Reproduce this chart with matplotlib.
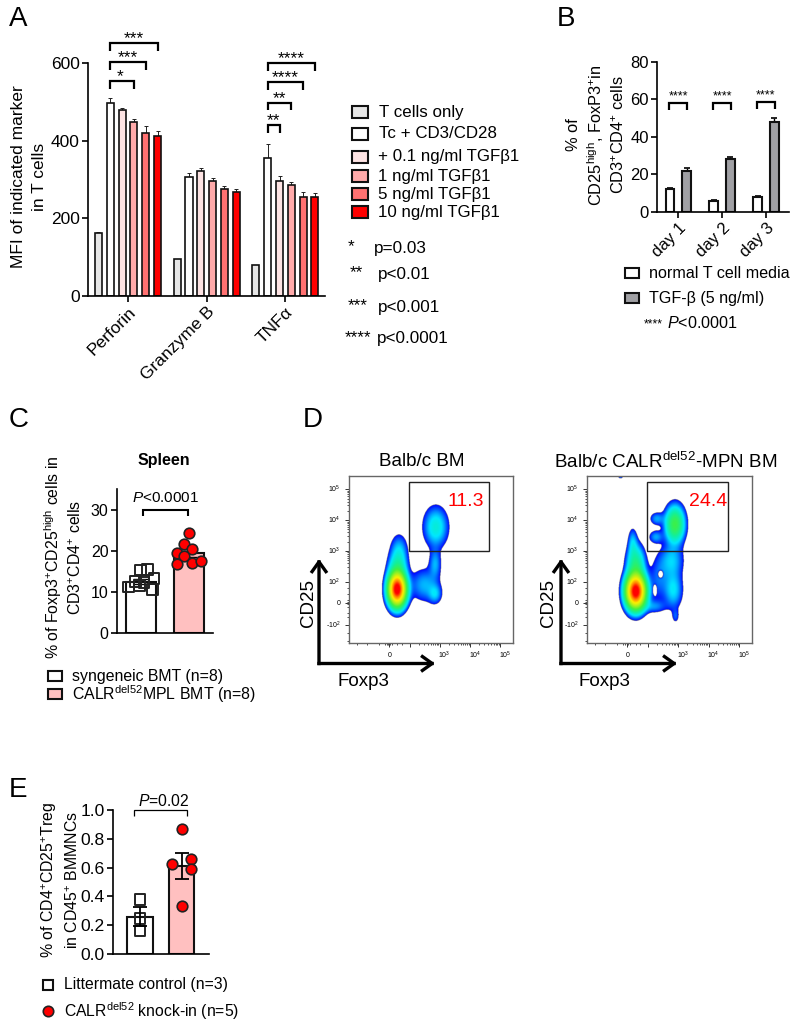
import numpy as np
import matplotlib
matplotlib.use("Agg")
import matplotlib.pyplot as plt
from matplotlib.colors import LinearSegmentedColormap
from matplotlib.patches import Rectangle, FancyArrowPatch
from matplotlib.lines import Line2D

plt.rcParams.update({
    'font.family': ['Liberation Sans', 'DejaVu Sans'],
    'mathtext.fontset': 'custom',
    'mathtext.rm': 'Liberation Sans',
    'mathtext.it': 'Liberation Sans:italic',
    'mathtext.bf': 'Liberation Sans:bold',
    'mathtext.default': 'regular',
    'axes.linewidth': 1.2,
    'xtick.major.width': 1.2, 'ytick.major.width': 1.2,
})

# ---------- data ----------
A_groups = ['Perforin', 'Granzyme B', 'TNFα']
A_series = ['T cells only', 'Tc + CD3/CD28', '+ 0.1 ng/ml TGFβ1',
            '1 ng/ml TGFβ1', '5 ng/ml TGFβ1', '10 ng/ml TGFβ1']
A_perforin = [163, 497, 480, 447, 421, 413]
A_granzyme = [95, 307, 323, 297, 275, 268]
A_tnf = [79, 356, 296, 287, 256, 255]
A_perforin_err = [2, 13, 4, 10, 18, 13]
A_granzyme_err = [1, 10, 7, 7, 8, 7]
A_tnf_err = [2, 35, 12, 6, 12, 11]
A_colors = ['#E6E6E6', '#FFFFFF', '#FDE3E3', '#FFAAAA', '#FF7171', '#FF0000']

B_days = ['day 1', 'day 2', 'day 3']
B_normal = [12, 6, 8]
B_normal_err = [0.6, 0.6, 0.7]
B_tgf = [22, 28, 48]
B_tgf_err = [1.2, 1.4, 2.2]

C_syn = [11.2, 15.3, 15.5, 13.3, 10.5, 12.6, 12.3, 11.5]
C_calr = [24.4, 21.7, 20.5, 19.5, 18.8, 16.8, 17.0, 17.5]
C_syn_mean, C_syn_err = 12.5, 0.7
C_calr_mean, C_calr_err = 19.4, 0.9

E_ctrl = [0.378, 0.245, 0.16]
E_ko = [0.868, 0.627, 0.659, 0.592, 0.33]
E_ctrl_mean, E_ctrl_err = 0.258, 0.065
E_ko_mean, E_ko_err = 0.612, 0.088

# flow plot density blobs: x, y, sx, sy, amplitude (biexponential decades)
D1_blobs = [(1.59, 1.76, .18, .33, 1.0), (1.65, 3.0, .19, .36, .06),
            (1.6, 2.5, .2, .3, .08), (2.87, 3.78, .26, .42, .09),
            (2.85, 2.6, .13, .3, .05), (2.5, 1.9, .32, .36, .055),
            (2.85, 1.6, .14, .2, .05)]
D2_blobs = [(1.6, 1.69, .2, .34, 1.0), (1.6, 2.6, .19, .38, .14),
            (1.5, 3.3, .1, .3, .05), (2.89, 3.87, .2, .37, .22),
            (2.29, 4.05, .15, .14, .05), (2.26, 3.46, .15, .14, .05),
            (2.78, 2.7, .26, .35, .06), (2.84, 1.74, .2, .4, .07),
            (2.91, .88, .08, .15, .03), (2.2, 1.2, .25, .14, .04),
            (2.35, 2.1, .2, .5, .035), (1.1, 5.42, .06, .05, .04)]
D2_holes = [(2.42, 2.25, .09, .13), (2.23, 1.74, .07, .18)]
D_titles = ['Balb/c BM', 'Balb/c CALR$^{del52}$-MPN BM']
D_gates = ['11.3', '24.4']

# ---------- helpers ----------
W, H = 800, 1029
fig = plt.figure(figsize=(W / 100, H / 100), dpi=100)


def pax(l, t, r, b):
    ax = fig.add_axes([l / W, 1 - b / H, (r - l) / W, (b - t) / H])
    ax.patch.set_alpha(0)
    return ax


def ft(x, y, s, **kw):
    kw.setdefault('ha', 'left')
    kw.setdefault('va', 'center')
    kw.setdefault('fontsize', 11)
    return fig.text(x / W, 1 - y / H, s, **kw)


def clean(ax):
    ax.spines['top'].set_visible(False)
    ax.spines['right'].set_visible(False)
    ax.tick_params(length=4, pad=2)


def bracket(ax, x0, x1, y, drop, lw=1.6):
    ax.plot([x0, x0, x1, x1], [y - drop, y, y, y - drop], color='k', lw=lw,
            clip_on=False, solid_joinstyle='miter', solid_capstyle='butt')


def swatch(x0, x1, yc, h, color, lw=1.5):
    fig.add_artist(Rectangle((x0 / W, 1 - (yc + h / 2) / H), (x1 - x0) / W, h / H,
                             transform=fig.transFigure, fc=color, ec='#111111', lw=lw))


for x, y, s in [(9, 19, 'A'), (557, 19, 'B'), (9, 420, 'C'), (303, 420, 'D'), (9, 790, 'E')]:
    ft(x, y, s, fontsize=20)

# ---------- Panel A ----------
ax = pax(88, 63, 325, 296)
clean(ax)
offs = (np.arange(6) - 2.5) * 0.15
for g, (vals, errs) in enumerate([(A_perforin, A_perforin_err),
                                  (A_granzyme, A_granzyme_err),
                                  (A_tnf, A_tnf_err)]):
    ax.bar(g + offs, vals, width=0.09, color=A_colors, edgecolor='#111111', lw=1.2, zorder=2)
    ax.errorbar(g + offs, vals, yerr=[np.zeros(6), errs], fmt='none', ecolor='#222222',
                elinewidth=0.7, capsize=1.2, capthick=0.7, zorder=1)
ax.set_xlim(-0.508, 2.503)
ax.set_ylim(0, 600)
ax.set_yticks([0, 200, 400, 600])
ax.set_xticks(range(3))
ax.set_xticklabels(A_groups, rotation=45, ha='right', rotation_mode='anchor')
ax.tick_params(labelsize=12.5)
ft(19, 177, 'MFI of indicated marker', rotation=90, ha='center', fontsize=12.5)
ft(40, 177, 'in T cells', rotation=90, ha='center', fontsize=12.5)
for i, y, st, sx in [(3, 553, '*', -0.02), (4, 603, '***', 0), (5, 652, '***', 0)]:
    bracket(ax, offs[1], offs[i], y, 20)
    ax.text((offs[1] + offs[i]) / 2 + sx, y - 8, st, ha='center', va='bottom', fontsize=12.5)
for i, y, st in [(2, 441, '**'), (3, 498, '**'), (4, 550, '****'), (5, 599, '****')]:
    bracket(ax, 2 + offs[1], 2 + offs[i], y, 20)
    ax.text(2 + (offs[1] + offs[i]) / 2, y - 8, st, ha='center', va='bottom', fontsize=12.5)
for name, c, y, tx in zip(A_series, A_colors, [112, 134, 157, 176, 194, 212],
                          [379, 379, 378, 378, 378, 378]):
    swatch(352, 368, y, 11.5, c)
    ft(tx, y, name, fontsize=12.2)
for st, sx, p, px, y in [('*', 351, 'p=0.03', 374, 248), ('**', 356, 'p<0.01', 378, 274),
                         ('***', 358, 'p<0.001', 378, 307), ('****', 358, 'p<0.0001', 377, 339)]:
    ft(sx, y - 1, st, ha='center', fontsize=12.3)
    ft(px, y, p, fontsize=12.3)

# ---------- Panel B ----------
ax = pax(657, 62, 789, 212)
clean(ax)
xb = np.arange(3)
ax.bar(xb - 0.19, B_normal, width=0.2, color='white', edgecolor='#111111', lw=1.5, zorder=2)
ax.bar(xb + 0.19, B_tgf, width=0.2, color='#A0A0A4', edgecolor='#111111', lw=1.5, zorder=2)
ax.errorbar(xb - 0.19, B_normal, yerr=[[0] * 3, B_normal_err], fmt='none', ecolor='k',
            elinewidth=1, capsize=2.5, capthick=1.2, zorder=1)
ax.errorbar(xb + 0.19, B_tgf, yerr=[[0] * 3, B_tgf_err], fmt='none', ecolor='k',
            elinewidth=1, capsize=2.5, capthick=1.2, zorder=1)
ax.set_xlim(-0.486, 2.527)
ax.set_ylim(0, 80)
ax.set_yticks([0, 20, 40, 60, 80])
ax.set_xticks(xb)
ax.set_xticklabels(B_days, rotation=45, ha='right', rotation_mode='anchor')
ax.tick_params(labelsize=12)
for g, y in zip(xb, [58, 58, 58.5]):
    bracket(ax, g - 0.21, g + 0.21, y, 3.5)
    ax.text(g, y + 0.5, '****', ha='center', va='bottom', fontsize=9)
ft(573, 135, '% of', rotation=90, ha='center', fontsize=11.8)
ft(596, 135, 'CD25$^{high}$, FoxP3$^{+}$in', rotation=90, ha='center', fontsize=11.8)
ft(619, 135, 'CD3$^{+}$CD4$^{+}$ cells', rotation=90, ha='center', fontsize=11.8)
swatch(625, 639, 273, 10, 'white')
swatch(625, 639, 298, 10, '#A0A0A4')
ft(649, 273, 'normal T cell media', fontsize=11.6)
ft(649, 298, 'TGF-β (5 ng/ml)', fontsize=11.6)
ft(644, 324, '****', fontsize=8.8)
ft(667, 323, '$\\mathit{P}$<0.0001', fontsize=11.6)

# ---------- Panel C ----------
ax = pax(117, 489, 213, 633)
clean(ax)
ax.bar([0, 1], [C_syn_mean, C_calr_mean], width=0.62, color=['white', '#FFC0C0'],
       edgecolor='#111111', lw=1.5, zorder=1)
ax.errorbar([0, 1], [C_syn_mean, C_calr_mean], yerr=[C_syn_err, C_calr_err], fmt='none',
            ecolor='k', elinewidth=1.2, capsize=6, zorder=2)
C_syn_off = [-0.26, -0.01, 0.13, 0.27, 0.24, -0.12, 0.06, -0.03]
C_calr_off = [0, -0.1, 0.07, -0.25, -0.1, -0.25, 0.07, 0.24]
ax.scatter(np.array(C_syn_off), C_syn, marker='s', s=60, facecolor='none',
           edgecolor='#222222', lw=1.4, zorder=3)
ax.scatter(1 + np.array(C_calr_off), C_calr, marker='o', s=58, facecolor='#FF0000',
           edgecolor='#222222', lw=1.2, zorder=3)
ax.set_xlim(-0.5, 1.5)
ax.set_ylim(0, 35)
ax.set_yticks([0, 10, 20, 30])
ax.set_xticks([])
ax.tick_params(labelsize=11.5)
bracket(ax, 0.04, 0.97, 30, 1.6, lw=1.5)
ax.text(0.52, 31, '$\\mathit{P}$<0.0001', ha='center', va='bottom', fontsize=11)
ft(164, 461, 'Spleen', ha='center', fontsize=11.5, fontweight='bold')
ft(53, 557, '% of Foxp3$^{+}$CD25$^{high}$ cells in', rotation=90, ha='center', fontsize=11.4)
ft(76, 557, 'CD3$^{+}$CD4$^{+}$ cells', rotation=90, ha='center', fontsize=11.4)
swatch(48, 62, 676, 10, 'white')
swatch(48, 62, 694, 10, '#FFC0C0')
ft(72, 676, 'syngeneic BMT (n=8)', fontsize=11.4)
ft(72, 694, 'CALR$^{del52}$MPL BMT (n=8)', fontsize=11.4)

# ---------- Panel D ----------
cmap = LinearSegmentedColormap.from_list('flow', [
    (0, '#0000FF'), (.15, '#0060FF'), (.32, '#00E8FF'), (.48, '#10F0A0'),
    (.63, '#40F040'), (.85, '#FFF000'), (.93, '#FF8000'), (.98, '#FF0000'), (1, '#FF0000')])
THR = 0.02


def density(blobs, holes=()):
    xs = np.linspace(0, 5.42, 540)
    ys = np.linspace(0.02, 5.43, 540)
    X, Y = np.meshgrid(xs, ys)
    Z = np.zeros_like(X)
    for cx, cy, sx, sy, a in blobs:
        Z += a * np.exp(-((X - cx) / sx) ** 2 / 2 - ((Y - cy) / sy) ** 2 / 2)
    for cx, cy, sx, sy in holes:
        Z *= 1 - np.exp(-(((X - cx) / sx) ** 2 + ((Y - cy) / sy) ** 2) ** 2)
    Z = np.clip(Z, 1e-9, 1)
    C = np.log(Z / THR) / np.log(1 / THR)
    return np.ma.masked_less(C, 0)


decades_x = [(1.33, '0'), (3, '$10^{3}$'), (4, '$10^{4}$'), (5, '$10^{5}$')]
decades_y = [(0.6, '-$10^{2}$'), (1.31, '0'), (2, '$10^{2}$'), (3, '$10^{3}$'),
             (4, '$10^{4}$'), (5, '$10^{5}$')]
minor = [d + np.log10(m) for d in (2, 3, 4) for m in range(2, 10)]
lin_x = [0.25, 0.6, 1.0, 1.18, 1.25, 1.3, 1.36, 1.42, 1.6, 1.75]
lin_y = [0.1, 0.35, 0.85, 1.0, 1.2, 1.28, 1.35, 1.42, 1.6, 1.8]

for (l, r, blobs, holes, title, tx, gate, gx, arrow_x, arrow_r, cdx, foxx) in [
    (349, 513, D1_blobs, (), D_titles[0], 422, D_gates[0], 3.85, 319, 435, 308, 363),
    (587, 752, D2_blobs, D2_holes, D_titles[1], 666, D_gates[1], 3.97, 561, 677, 549, 604),
]:
    ax = pax(l, 476, r, 643)
    ax.imshow(density(blobs, holes), origin='lower', extent=(0, 5.42, 0.02, 5.43),
              aspect='auto', cmap=cmap, vmin=0, vmax=1, interpolation='bilinear', zorder=1)
    ax.add_patch(Rectangle((1.98, 3), 2.64, 2.23, fc='none', ec='#222222', lw=1.0, zorder=3))
    ax.set_xlim(0, 5.42)
    ax.set_ylim(0.02, 5.43)
    for s in ax.spines.values():
        s.set_linewidth(1.0)
        s.set_color('#666666')
    ax.set_xticks([d for d, _ in decades_x] + [2])
    ax.set_yticks([d for d, _ in decades_y])
    ax.set_xticks(minor + lin_x, minor=True)
    ax.set_yticks(minor + lin_y, minor=True)
    ax.set_xticklabels([])
    ax.set_yticklabels([])
    ax.tick_params(which='major', length=3, width=0.7, color='#333333')
    ax.tick_params(which='minor', length=1.5, width=0.6, color='#333333')
    for d, s in decades_x:
        ax.annotate(s, (d, 0.02), xytext=(-1 if d > 2 else 0, -9), textcoords='offset points',
                    ha='left' if d > 2 else 'center', va='center', fontsize=5)
    for d, s in decades_y:
        ax.annotate(s, (0, d), xytext=(-6, 0), textcoords='offset points',
                    ha='right', va='center', fontsize=5)
    ax.text(gx, 4.59, gate, color='#FF0000', fontsize=14, ha='center', va='center', zorder=4)
    ft(tx, 462, title, ha='center', fontsize=13.6)
    y0 = 1 - 663.5 / H
    for end in [(arrow_x / W, 1 - 559 / H), (arrow_r / W, y0)]:
        fig.add_artist(FancyArrowPatch(
            (arrow_x / W, y0), end, transform=fig.transFigure,
            arrowstyle='->,head_length=7,head_width=5', lw=2.4, color='k',
            shrinkA=0, shrinkB=0, capstyle='projecting'))
    ft(cdx, 603, 'CD25', rotation=90, ha='center', fontsize=13.5)
    ft(foxx, 682, 'Foxp3', ha='center', fontsize=13.5)

# ---------- Panel E ----------
ax = pax(113, 810, 209, 954)
clean(ax)
ax.bar([0, 1], [E_ctrl_mean, E_ko_mean], width=0.62, color=['white', '#FFC0C0'],
       edgecolor='#111111', lw=1.5, zorder=1)
ax.scatter([0] * 3, E_ctrl, marker='s', s=58, facecolor='none', edgecolor='#222222', lw=1.4, zorder=3)
E_ko_off = [0, -0.22, 0.23, 0.23, 0]
ax.scatter(1 + np.array(E_ko_off), E_ko, marker='o', s=58, facecolor='#FF0000',
           edgecolor='#222222', lw=1.2, zorder=3)
ax.errorbar([0, 1], [E_ctrl_mean, E_ko_mean], yerr=[E_ctrl_err, E_ko_err], fmt='none',
            ecolor='k', elinewidth=1.3, capsize=5, capthick=1.3, zorder=4)
ax.set_xlim(-0.65, 1.66)
ax.set_ylim(0, 1.0)
ax.set_yticks(np.arange(0, 1.01, 0.2))
ax.set_yticklabels(['0.0', '0.2', '0.4', '0.6', '0.8', '1.0'])
ax.set_xticks([])
ax.tick_params(labelsize=12.6)
bracket(ax, -0.14, 1.13, 1.0, 0.045, lw=0.9)
ax.text(0.56, 1.01, '$\\mathit{P}$=0.02', ha='center', va='bottom', fontsize=11.3)
ft(49, 880, '% of CD4$^{+}$CD25$^{+}$Treg', rotation=90, ha='center', fontsize=11.4)
ft(73, 880, 'in CD45$^{+}$ BMMNCs', rotation=90, ha='center', fontsize=11.4)
swatch(43, 53, 985, 10, 'white')
fig.add_artist(Line2D([48 / W], [1 - 1011 / H], marker='o', ms=7.5,
                      mfc='#FF0000', mec='#222222', mew=1.2,
                      transform=fig.transFigure))
ft(64, 985, 'Littermate control (n=3)', fontsize=11.35)
ft(64, 1011, 'CALR$^{del52}$ knock-in (n=5)', fontsize=11.35)

fig.savefig('out.png', dpi=100)
